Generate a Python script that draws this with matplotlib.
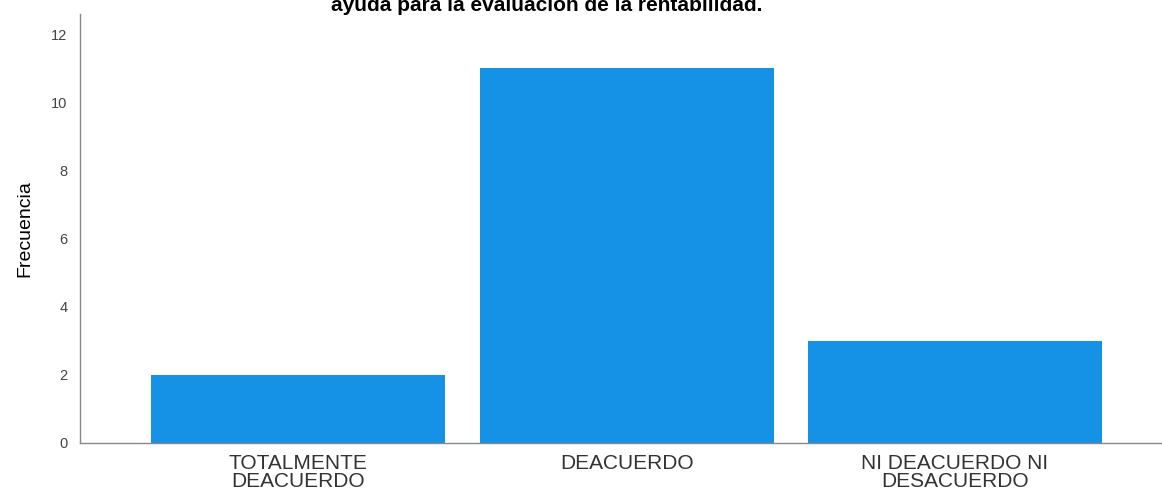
import matplotlib
matplotlib.use("Agg")
import matplotlib.pyplot as plt

categories = ["TOTALMENTE\nDEACUERDO", "DEACUERDO", "NI DEACUERDO NI\nDESACUERDO"]
frequencies = [2, 11, 3]
y_ticks = [0, 2, 4, 6, 8, 10, 12]
title = "ayuda para la evaluación de la rentabilidad."

plt.rcParams["font.family"] = ["Liberation Sans", "DejaVu Sans"]

figure = plt.figure(figsize=(11.62, 4.91), dpi=100)
axes = figure.add_axes([80 / 1162, 1 - 443 / 491, 1 - 80 / 1162, (443 - 14) / 491])

positions = list(range(len(categories)))
axes.bar(positions, frequencies, width=0.895, color="#1591e6", zorder=2)

axes.set_xlim(-0.664, 2.63)
axes.set_ylim(0, 12.6)
axes.set_yticks(y_ticks)
axes.set_yticklabels([str(t) for t in y_ticks], fontsize=10.5, color="#444444")
axes.set_xticks(positions)
axes.set_xticklabels(categories, fontsize=15, color="#333333", linespacing=0.95)
axes.tick_params(axis="both", length=0)
axes.tick_params(axis="y", pad=9)
axes.tick_params(axis="x", pad=8)

for side in ["top", "right"]:
    axes.spines[side].set_visible(False)
for side in ["left", "bottom"]:
    axes.spines[side].set_color("#888888")
    axes.spines[side].set_linewidth(1.0)

axes.set_ylabel("Frecuencia", fontsize=14, color="black", labelpad=13)

figure.text(547 / 1162, 1 - 11 / 491, title, ha="center", va="baseline",
            fontsize=15, fontweight="bold", color="black")

figure.savefig("out.png", dpi=100)
plt.close(figure)
